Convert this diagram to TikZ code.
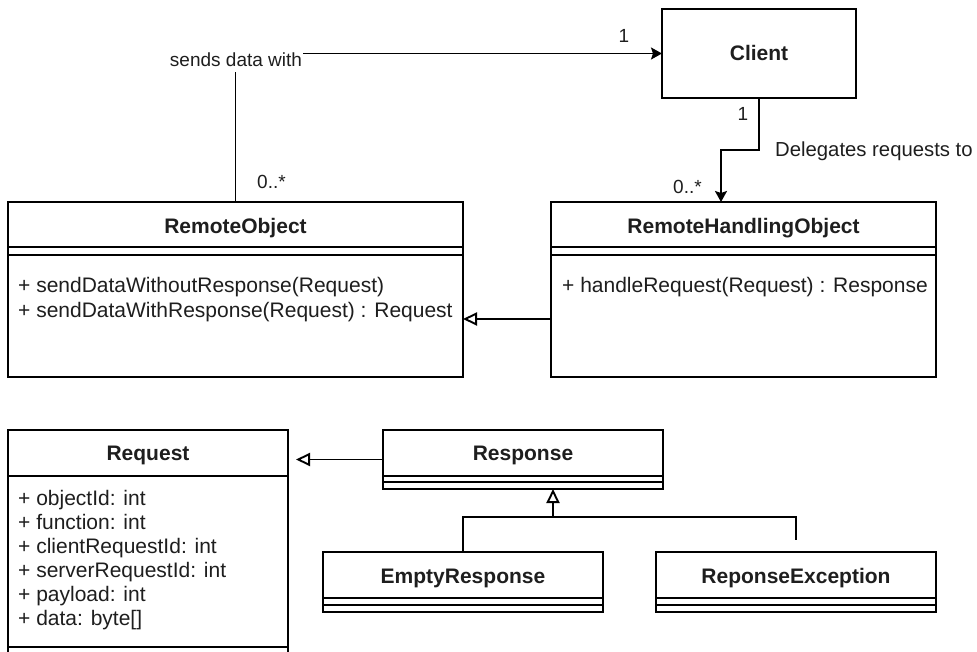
\documentclass[tikz,border=0pt]{standalone}
\usepackage{fontspec}
\setmainfont{Liberation Sans}
\usetikzlibrary{arrows.meta}
\definecolor{txt}{RGB}{30,30,30}
\begin{document}
\begin{tikzpicture}[x=1pt,y=-1pt,
  line/.style={draw=black, line width=1.9pt},
  box/.style={draw=black, line width=1.9pt, fill=white, inner sep=0pt, outer sep=0pt, anchor=north west},
  ttl/.style={font=\fontsize{21}{24}\selectfont\bfseries, text=txt, anchor=base, inner sep=0pt},
  mem/.style={font=\fontsize{21}{24}\selectfont, text=txt, anchor=base west, inner sep=0pt},
  lbl/.style={font=\fontsize{19}{22}\selectfont, text=txt, inner sep=0pt},
  gen/.style={-{Triangle[open, length=14pt, width=13pt, fill=white]}},
  assoc/.style={-{Stealth[length=11pt, width=12pt, inset=2pt]}}
]
\useasboundingbox (0,0) rectangle (977,652);
\clip (0,0) rectangle (977,652);

% ---------- boxes ----------
\node[box, minimum width=194pt, minimum height=89pt] (client) at (662,9) {};
\node[ttl] (clientT) at (759,61) {Client};

\node[box, minimum width=455pt, minimum height=175pt] (ro) at (8,202) {};
\draw[line] (8,247) -- (463,247);
\draw[line] (8,255) -- (463,255);
\node[ttl] (roT) at (235.5,234) {RemoteObject};
\node[mem] (roM1) at (18,293) {+ sendDataWithoutResponse(Request)};
\node[mem] (roM2) at (18,317) {+ sendDataWithResponse(Request) : Request};

\node[box, minimum width=385pt, minimum height=175pt] (rho) at (551,202) {};
\draw[line] (551,247) -- (936,247);
\draw[line] (551,255) -- (936,255);
\node[ttl] (rhoT) at (743.5,234) {RemoteHandlingObject};
\node[mem] (rhoM1) at (562,293) {+ handleRequest(Request) : Response};

\node[box, minimum width=280pt, minimum height=240pt] (req) at (8,430) {};
\draw[line] (8,476) -- (288,476);
\draw[line] (8,647) -- (288,647);
\node[ttl] (reqT) at (148,460) {Request};
\node[mem] (reqA1) at (18,505) {+ objectId: int};
\node[mem] (reqA2) at (18,529) {+ function: int};
\node[mem] (reqA3) at (18,553) {+ clientRequestId: int};
\node[mem] (reqA4) at (18,577) {+ serverRequestId: int};
\node[mem] (reqA5) at (18,601) {+ payload: int};
\node[mem] (reqA6) at (18,625) {+ data: byte[]};

\node[box, minimum width=280pt, minimum height=59pt] (resp) at (383,430) {};
\draw[line] (383,476) -- (663,476);
\draw[line] (383,482) -- (663,482);
\node[ttl] (respT) at (523,460) {Response};

\node[box, minimum width=280pt, minimum height=60pt] (empty) at (323,552) {};
\draw[line] (323,598) -- (603,598);
\draw[line] (323,605) -- (603,605);
\node[ttl] (emptyT) at (463,583) {EmptyResponse};

\node[box, minimum width=280pt, minimum height=60pt] (exc) at (656,552) {};
\draw[line] (656,598) -- (936,598);
\draw[line] (656,605) -- (936,605);
\node[ttl] (excT) at (796,583) {ReponseException};

% ---------- connectors ----------
% RemoteObject -> Client
\draw[line, assoc] (ro.north) |- (client.west);
\node[lbl, anchor=base, fill=white, inner xsep=1pt, inner ysep=5pt] (sdw) at (236,67) {sends data with};
\node[lbl, anchor=base west] (m1) at (257,189) {0..*};
\node[lbl, anchor=base] (m2) at (624,43) {1};

% Client -> RemoteHandlingObject
\coordinate (bend) at (759,150);
\coordinate (rhoIn) at (721,202);
\draw[line, assoc] (client.south) -- (bend) -| (rhoIn);
\node[lbl, anchor=base] (m3) at (743,121) {1};
\node[mem, font=\fontsize{20.3}{24}\selectfont] (dlg) at (775,157) {Delegates requests to};
\node[lbl, anchor=base west] (m4) at (673,194) {0..*};

% RemoteHandlingObject -> RemoteObject (generalization)
\draw[line, gen] ([yshift=-29.5pt]rho.west) -- ([yshift=-29.5pt]ro.east);

% Response -> Request (generalization)
\coordinate (reqTip) at ([xshift=8pt]req.north east);
\draw[line, gen] (resp.west) -- (reqTip |- resp.west);

% EmptyResponse / ReponseException -> Response
\coordinate (tri) at ([xshift=30pt]resp.south);
\coordinate (jn) at (553,517);
\coordinate (rxEnd) at ([yshift=12pt]exc.north);
\draw[line] (empty.north) |- (jn) -| (rxEnd);
\draw[line, gen] (jn) -- (tri);
\end{tikzpicture}
\end{document}
